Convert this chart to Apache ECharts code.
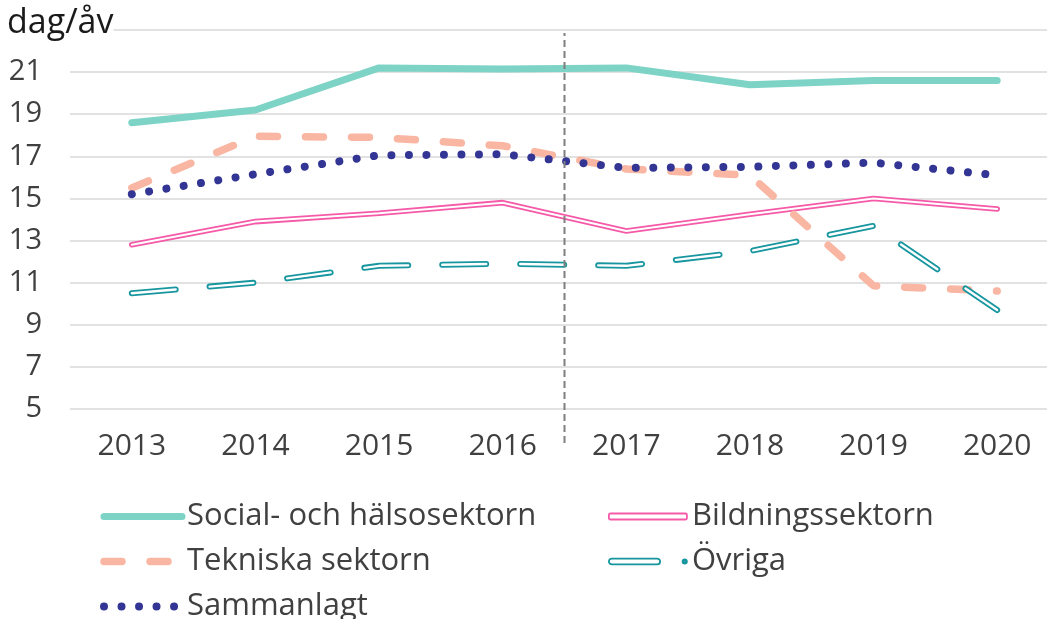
<!DOCTYPE html>
<html>
<head>
<meta charset="utf-8">
<script src="https://cdn.jsdelivr.net/npm/echarts@6/dist/echarts.min.js"></script>
<style>
html,body{margin:0;padding:0;background:#fff;}
#c{width:1047px;height:619px;}
</style>
</head>
<body>
<div id="c"></div>
<script>
const years = ['2013','2014','2015','2016','2017','2018','2019','2020'];
const social = [18.6, 19.2, 21.2, 21.15, 21.2, 20.4, 20.6, 20.6];
const bildning = [12.8, 13.9, 14.3, 14.8, 13.45, 14.25, 15.0, 14.5];
const tekniska = [15.5, 17.95, 17.9, 17.5, 16.4, 16.1, 10.85, 10.6];
const ovriga = [10.5, 11.0, 11.8, 11.9, 11.8, 12.5, 13.7, 9.7];
const sammanlagt = [15.2, 16.15, 17.05, 17.1, 16.45, 16.5, 16.7, 16.1];
const yTicks = [5, 23, 2]; // min, max, interval
const markerPos = 3.5; // between 2016 and 2017
const unitLabel = 'dag/åv';

const FONT = 'Open Sans';
const TXT = '#404040';
const C_SOC = '#7dd3c5', C_BIL = '#f55aa8', C_TEK = '#f9b6a3', C_OVR = '#17969f', C_SAM = '#333594';

const chart = echarts.init(document.getElementById('c'), null, {renderer:'canvas'});
chart.setOption({
  animation: false,
  textStyle: {fontFamily: FONT},
  title: {
    text: unitLabel, left: 0, top: 2,
    padding: [4, 0, 6, 7],
    backgroundColor: '#fff',
    textStyle: {fontFamily: FONT, fontSize: 34, fontWeight: 'normal', color: '#1a1a1a', width: 238}
  },
  grid: [
    {left: 70, width: 989, top: 30, height: 379, outerBoundsMode: 'none', containLabel: false},
    {left: 70, width: 989, top: 33, height: 410, outerBoundsMode: 'none', containLabel: false}
  ],
  xAxis: [
    {type: 'category', data: years, gridIndex: 0, boundaryGap: true,
     axisLine: {show: false}, axisTick: {show: false},
     axisLabel: {color: TXT, fontSize: 30, fontFamily: FONT, margin: 22}},
    {type: 'value', gridIndex: 1, min: -0.5, max: years.length - 0.5, show: false}
  ],
  yAxis: [
    {type: 'value', gridIndex: 0, min: yTicks[0], max: yTicks[1], interval: yTicks[2],
     axisLine: {show: false}, axisTick: {show: false},
     splitLine: {lineStyle: {color: '#d9d9d9', width: 1.5}},
     axisLabel: {color: TXT, fontSize: 29, fontFamily: FONT, margin: 28,
       formatter: v => v >= yTicks[1] ? '' : String(v)}},
    {type: 'value', gridIndex: 1, min: 0, max: 1, show: false}
  ],
  legend: [
    {orient: 'vertical', left: 100, top: 494, height: 200, padding: 0, itemGap: 0,
     itemWidth: 78, itemHeight: 10,
     textStyle: {color: TXT, fontSize: 31, fontFamily: FONT, lineHeight: 45},
     lineStyle: {width: 'inherit'},
     itemStyle: {opacity: 0},
     data: ['Social- och hälsosektorn', 'Tekniska sektorn', 'Sammanlagt']},
    {orient: 'vertical', left: 608, top: 494, height: 200, padding: 0, itemGap: 0,
     itemWidth: 78, itemHeight: 6,
     textStyle: {color: TXT, fontSize: 31, fontFamily: FONT, lineHeight: 45},
     data: [
       {name: 'Bildningssektorn', icon: 'roundRect',
        itemStyle: {color: '#fff', borderColor: C_BIL, borderWidth: 1.8}},
       {name: 'Övriga',
        icon: 'path://M3,0 L49,0 A3,3 0 0 1 49,6 L3,6 A3,3 0 0 1 3,0 Z M77,0.8 A2.2,2.2 0 1 1 77,5.2 A2.2,2.2 0 1 1 77,0.8 Z M77,2.3 A0.7,0.7 0 1 1 77,3.7 A0.7,0.7 0 1 1 77,2.3 Z',
        itemStyle: {color: '#fff', borderColor: C_OVR, borderWidth: 1.8}}
     ]}
  ],
  series: [
    {name: 'Social- och hälsosektorn', type: 'line', data: social, symbol: 'none',
     lineStyle: {color: C_SOC, width: 7, cap: 'round', join: 'round'}, itemStyle: {color: C_SOC}},
    {name: 'Bildningssektorn', type: 'line', data: bildning, symbol: 'none',
     lineStyle: {color: C_BIL, width: 5.6, cap: 'round'}, itemStyle: {color: C_BIL}},
    {name: 'Bildningssektorn_inner', type: 'line', data: bildning, symbol: 'none', silent: true,
     lineStyle: {color: '#fff', width: 2, cap: 'round'}, itemStyle: {color: '#fff'}},
    {name: 'Tekniska sektorn', type: 'line', data: tekniska, symbol: 'none',
     lineStyle: {color: C_TEK, width: 7.5, type: [18, 28], cap: 'round'}, itemStyle: {color: C_TEK}},
    {name: 'Övriga', type: 'line', data: ovriga, symbol: 'none',
     lineStyle: {color: C_OVR, width: 6, type: [44, 34], cap: 'round'}, itemStyle: {color: C_OVR}},
    {name: 'Övriga_inner', type: 'line', data: ovriga, symbol: 'none', silent: true,
     lineStyle: {color: '#fff', width: 2.4, type: [44, 34], cap: 'round'}, itemStyle: {color: '#fff'}},
    {name: 'Sammanlagt', type: 'line', data: sammanlagt, symbol: 'none',
     lineStyle: {color: C_SAM, width: 8, type: [0.01, 17.5], cap: 'round'}, itemStyle: {color: C_SAM}},
    {name: 'marker', type: 'line', xAxisIndex: 1, yAxisIndex: 1, symbol: 'none', silent: true,
     data: [[markerPos, 0], [markerPos, 1]],
     lineStyle: {color: '#7f7f7f', width: 2, type: [7, 4]}}
  ]
});
</script>
</body>
</html>
